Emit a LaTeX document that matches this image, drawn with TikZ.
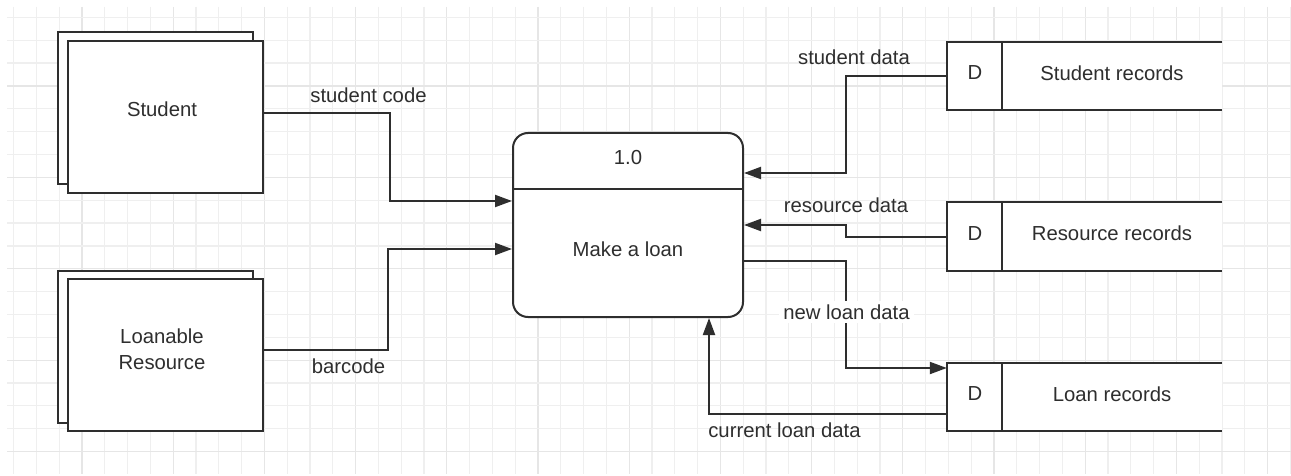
\documentclass[tikz,border=0pt]{standalone}
\usepackage{fontspec}
\setmainfont{Liberation Sans}
\usetikzlibrary{arrows.meta,calc}
\definecolor{ink}{HTML}{2E2E2E}
\definecolor{gridminor}{HTML}{EFEFEF}
\definecolor{gridmajor}{HTML}{E6E6E6}
\begin{document}
\begin{tikzpicture}[x=1pt,y=-1pt,
  font=\fontsize{20.3}{26}\selectfont,
  every node/.style={text=ink},
  ext/.style={draw=ink, line width=2pt, fill=white, minimum width=195pt, minimum height=152pt, inner sep=0pt},
  proc/.style={draw=ink, line width=2pt, fill=white, rounded corners=15pt, minimum width=230pt, minimum height=184pt, inner sep=0pt},
  store/.style={fill=white, minimum width=275pt, minimum height=68pt, inner sep=0pt},
  storeline/.style={draw=ink, line width=2pt},
  flow/.style={draw=ink, line width=2pt, -{Triangle[length=17pt,width=12pt]}},
  lbl/.style={inner sep=1pt, align=center},
]
\useasboundingbox (0,0) rectangle (1291,476);
\fill[white] (0,0) rectangle (1291,476);
% grid
\foreach \k in {0,...,56} {
  \pgfmathsetmacro{\gx}{13.6+22.8*\k}
  \pgfmathtruncatemacro{\m}{mod(\k,4)}
  \ifnum\m=3 \def\gc{gridmajor}\else\def\gc{gridminor}\fi
  \draw[\gc, line width=1.2pt] (\gx,7) -- (\gx,474);
}
\foreach \k in {0,...,19} {
  \pgfmathsetmacro{\gy}{17.4+22.85*\k}
  \pgfmathtruncatemacro{\m}{mod(\k,4)}
  \ifnum\m=3 \def\gc{gridmajor}\else\def\gc{gridminor}\fi
  \draw[\gc, line width=1.2pt] (7,\gy) -- (1291,\gy);
}
% external entities
\node[ext] (studentback) at (155,108.5) {};
\node[ext] (student) at (165.5,117) {};
\node[lbl] (studentlbl) at (162,109) {Student};
\node[ext] (resourceback) at (155,346.5) {};
\node[ext] (resource) at (165.5,354.5) {};
\node[lbl] (resourcelbl) at (162,349) {Loanable\\Resource};
% process
\node[proc] (proc) at (628,225) {};
\draw[storeline] (proc.west |- 0,189) -- (proc.east |- 0,189);
\node[lbl] (procid) at (628,158) {1.0};
\node[lbl] (procname) at (628,249) {Make a loan};
% data stores
\foreach \nm/\yy/\txt in {sstore/76/Student records, rstore/236.5/Resource records, lstore/397/Loan records} {
  \node[store] (\nm) at (1084.5,\yy) {};
  \draw[storeline] (\nm.north east) -- (\nm.north west) -- (\nm.south west) -- (\nm.south east);
  \draw[storeline] (\nm.north west -| 1002,0) -- (\nm.south west -| 1002,0);
  \node[lbl] (\nm d) at (975,\yy-3) {D};
  \node[lbl] (\nm t) at (1112,\yy-3) {\txt};
}
% flows
\draw[flow] (student.east |- 0,113) -- (390,113) |- (proc.west |- 0,201);
\node[lbl] (l1) at (368.5,95) {student code};
\draw[flow] (resource.east |- 0,350) -- (388,350) |- (proc.west |- 0,249);
\node[lbl] (l2) at (348.5,366) {barcode};
\draw[flow] (sstore.west |- 0,76) -- (846,76) |- (proc.east |- 0,173);
\node[lbl] (l3) at (854,57) {student data};
\draw[flow] (rstore.west |- 0,237) -- (846,237) |- (proc.east |- 0,225);
\node[lbl] (l4) at (846,205) {resource data};
\draw[flow] (proc.east |- 0,261) -- (846,261) |- (lstore.west |- 0,368);
\node[lbl, fill=white, inner sep=4pt] (l5) at (846.5,312) {new loan data};
\draw[flow] (lstore.west |- 0,414) -| (proc.south -| 709,0);
\node[lbl] (l6) at (784.5,430) {current loan data};
\end{tikzpicture}
\end{document}
